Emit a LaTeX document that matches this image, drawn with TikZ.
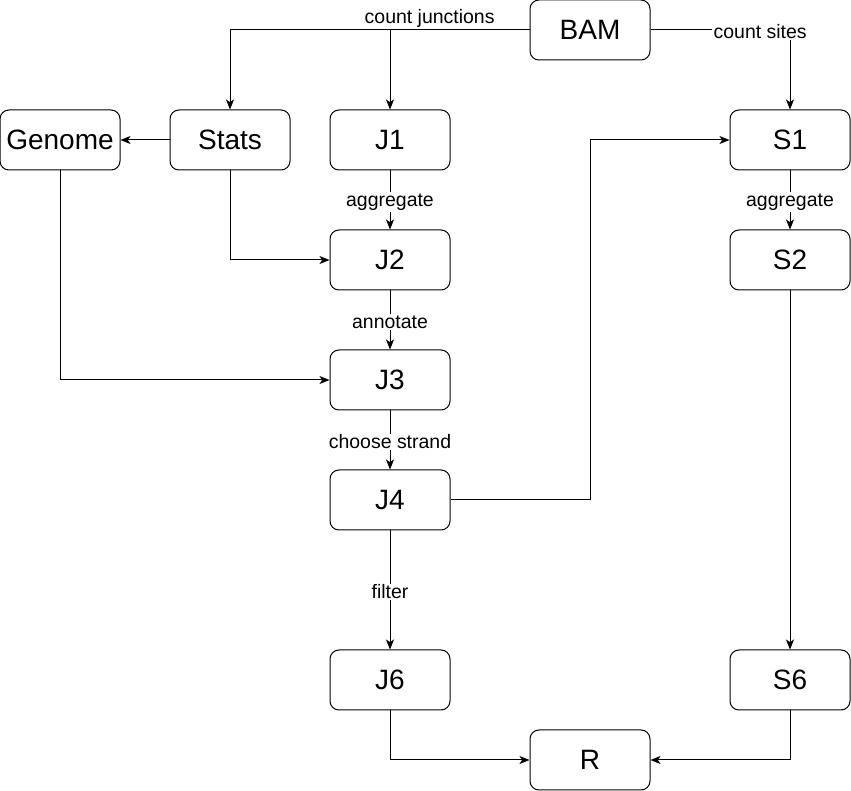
\documentclass[tikz,border=0pt]{standalone}
\usepackage{fontspec}
\setmainfont{Liberation Sans}
\usetikzlibrary{arrows.meta}

\begin{document}

\begin{tikzpicture}[x=0.75pt,y=-0.75pt,
 box/.style={draw, line width=0.75pt, rounded corners=6.75pt, minimum width=90pt, minimum height=45pt, inner sep=0pt, font=\fontsize{21}{25}\selectfont},
 arr/.style={line width=0.75pt, -{Stealth[length=7.5pt, width=6pt, inset=2pt]}},
 lbl/.style={fill=white, inner sep=1pt, yshift=-1.5pt, font=\fontsize{14.6}{17}\selectfont}]

\useasboundingbox (0,0) rectangle (851,791);

\node[box] (BAM) at (590,30) {BAM};

\node[box] (Genome) at (60,140) {Genome};
\node[box] (Stats) at (230,140) {Stats};
\node[box] (J1) at (390,140) {J1};
\node[box] (S1) at (790,140) {S1};

\node[box] (J2) at (390,260) {J2};
\node[box] (S2) at (790,260) {S2};

\node[box] (J3) at (390,380) {J3};
\node[box] (J4) at (390,500) {J4};

\node[box] (J6) at (390,680) {J6};
\node[box] (S6) at (790,680) {S6};

\node[box] (R) at (590,760) {R};

%\draw[red] (0,0) grid (851,791);

\draw[arr] (BAM) -| node[lbl, fill=none, pos=0.1667, yshift=10.5pt] {count junctions} (Stats);
\draw[arr] (BAM) -| (J1);
\draw[arr] (BAM) -| node[lbl, pos=0.393] {count sites} (S1);

\draw[arr] (Stats) -- (Genome);
\draw[arr] (Stats) |- (J2);
\draw[arr] (Genome) |- (J3);

\draw[arr] (J1) -- node[lbl] {aggregate} (J2);
\draw[arr] (S1) -- node[lbl] {aggregate} (S2);
\draw[arr] (J2) -- node[lbl] {annotate} (J3);
\draw[arr] (J3) -- node[lbl] {choose strand} (J4);

\draw[arr] (J4) -| (R |- S1) -- (S1);

\draw[arr] (J4) -- node[lbl] {filter} (J6);
\draw[arr] (S2) -- (S6);

\draw[arr] (J6) |- (R);
\draw[arr] (S6) |- (R);

\end{tikzpicture}

\end{document}
